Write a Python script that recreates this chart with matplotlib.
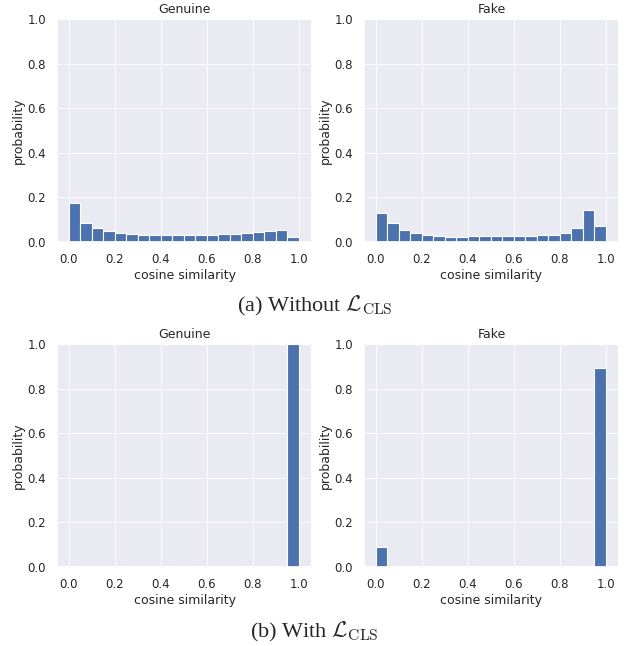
import numpy as np
import matplotlib
matplotlib.use("Agg")
import matplotlib.pyplot as plt
import seaborn as sns

sns.set_theme(style="darkgrid", rc={"grid.linewidth": 0.6})
plt.rcParams['font.family'] = ['DejaVu Sans']
plt.rcParams['mathtext.fontset'] = 'cm'

bin_edges = np.linspace(0, 1, 21)

genuine_without = [0.177, 0.086, 0.063, 0.049, 0.042, 0.036, 0.033, 0.031, 0.030, 0.031,
                   0.031, 0.033, 0.033, 0.036, 0.037, 0.040, 0.043, 0.050, 0.056, 0.022]
fake_without = [0.131, 0.086, 0.054, 0.042, 0.033, 0.027, 0.024, 0.024, 0.026, 0.027,
                0.028, 0.028, 0.028, 0.028, 0.030, 0.033, 0.040, 0.061, 0.144, 0.070]
genuine_with = [0.0] * 19 + [1.0]
fake_with = [0.091] + [0.0] * 18 + [0.892]

titles = ["Genuine", "Fake"]
xticks = [0.0, 0.2, 0.4, 0.6, 0.8, 1.0]
yticks = [0.0, 0.2, 0.4, 0.6, 0.8, 1.0]
captions = [r"(a) Without $\mathcal{L}_{\rm CLS}$", r"(b) With $\mathcal{L}_{\rm CLS}$"]

W, H = 629, 646
fig = plt.figure(figsize=(W / 100, H / 100), dpi=100)

def add_ax(x0, y0, x1, y1):
    return fig.add_axes([x0 / W, 1 - y1 / H, (x1 - x0) / W, (y1 - y0) / H])

boxes = [(57, 19, 312, 242), (364, 19, 619, 242),
         (57, 344, 312, 567), (364, 344, 619, 567)]
datasets = [genuine_without, fake_without, genuine_with, fake_with]

color = sns.color_palette("deep")[0]
for i, (box, data) in enumerate(zip(boxes, datasets)):
    ax = add_ax(*box)
    lefts = bin_edges[:-1]
    widths = np.diff(bin_edges)
    ax.bar(lefts, data, width=widths, align='edge', color=color,
           edgecolor='white', linewidth=0.8)
    ax.set_xlim(-0.052, 1.057)
    ax.set_ylim(0, 1.0)
    ax.set_xticks(xticks)
    ax.set_yticks(yticks)
    ax.set_xticklabels([f"{t:.1f}" for t in xticks], fontsize=8.5)
    ax.set_yticklabels([f"{t:.1f}" for t in yticks], fontsize=8.5)
    ax.set_xlabel("cosine similarity", fontsize=9, labelpad=2)
    ax.set_ylabel("probability", fontsize=9, labelpad=2)
    ax.set_title(titles[i % 2], fontsize=9, pad=4)
    ax.tick_params(pad=2)

fig.text(0.5, 1 - 306 / H, captions[0], ha='center', va='center',
         fontsize=16, family='Liberation Serif')
fig.text(0.5, 1 - 632 / H, captions[1], ha='center', va='center',
         fontsize=16, family='Liberation Serif')

fig.savefig("out.png", dpi=100)
